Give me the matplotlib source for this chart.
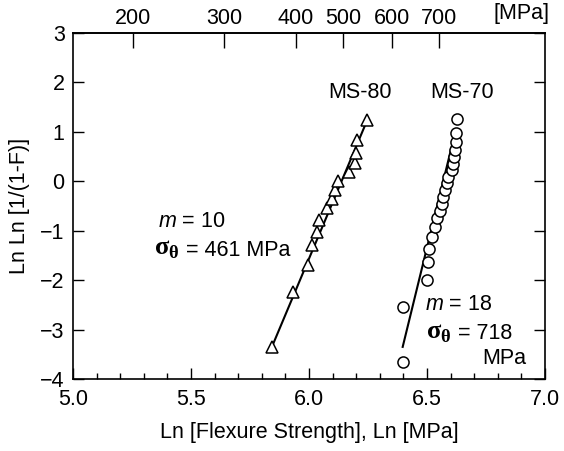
import numpy as np
import matplotlib
matplotlib.use('Agg')
import matplotlib.pyplot as plt
from matplotlib.ticker import MultipleLocator, NullLocator

plt.rcParams['font.family'] = ['Liberation Sans', 'DejaVu Sans']
plt.rcParams['mathtext.fontset'] = 'custom'
plt.rcParams['mathtext.rm'] = 'Liberation Sans'
plt.rcParams['mathtext.it'] = 'Liberation Sans:italic'
plt.rcParams['mathtext.bf'] = 'Liberation Serif:bold'

# MS-80 (triangles)
ms80_x = [5.842, 5.933, 5.994, 6.011, 6.033, 6.042, 6.075, 6.096, 6.110, 6.124,
          6.169, 6.195, 6.199, 6.202, 6.247]
ms80_y = [-3.36, -2.23, -1.69, -1.29, -1.02, -0.78, -0.55, -0.36, -0.18, 0.01,
          0.19, 0.38, 0.57, 0.84, 1.24]
ms80_fit_x = [5.842, 6.247]
ms80_fit_y = [-3.36, 1.24]

# MS-70 (circles)
ms70_x = [6.400, 6.400, 6.499, 6.506, 6.510, 6.520, 6.534, 6.541, 6.555, 6.562,
          6.569, 6.576, 6.583, 6.590, 6.605, 6.612, 6.614, 6.619, 6.623, 6.623, 6.628]
ms70_y = [-3.65, -2.54, -2.00, -1.63, -1.36, -1.12, -0.92, -0.75, -0.61, -0.45,
          -0.31, -0.18, -0.04, 0.09, 0.23, 0.36, 0.50, 0.63, 0.80, 0.97, 1.27]
ms70_fit_x = [6.397, 6.620]
ms70_fit_y = [-3.35, 1.00]

# top MPa scale, tick positions as drawn in the original (ln units)
mpa_labels = ['200', '300', '400', '500', '600', '700']
mpa_pos = [5.253, 5.641, 5.945, 6.145, 6.350, 6.552]

FS = 15.5

fig = plt.figure(figsize=(5.64, 4.51), dpi=100)
ax = fig.add_axes([0.1294, 0.1596, 0.8369, 0.7672])

ax.plot(ms80_fit_x, ms80_fit_y, 'k-', lw=1.5, zorder=2)
ax.plot(ms80_x, ms80_y, '^', ms=9, mfc='white', mec='black', mew=1.1, zorder=3)
ax.plot(ms70_fit_x, ms70_fit_y, 'k-', lw=1.5, zorder=2)
ax.plot(ms70_x, ms70_y, 'o', ms=8, mfc='white', mec='black', mew=1.1, zorder=3)

ax.set_xlim(5.0, 7.0)
ax.set_ylim(-4, 3)
ax.xaxis.set_minor_locator(MultipleLocator(0.1))
ax.set_xticks([5.0, 5.5, 6.0, 6.5, 7.0], ['5.0', '5.5', '6.0', '6.5', '7.0'])
ax.set_yticks(range(-4, 4), ['\u22124', '\u22123', '\u22122', '\u22121', '0', '1', '2', '3'])
ax.tick_params(axis='x', which='major', direction='in', length=8, width=1, labelsize=FS, top=False, pad=7)
ax.tick_params(axis='x', which='minor', direction='in', length=4, width=1, top=False)
ax.tick_params(axis='y', which='major', direction='in', length=8, width=1, labelsize=FS, right=True, pad=6)
for s in ax.spines.values():
    s.set_linewidth(1.2)

top = ax.secondary_xaxis('top')
top.set_xticks(mpa_pos, mpa_labels)
top.xaxis.set_minor_locator(NullLocator())
top.tick_params(direction='in', length=11, width=1, labelsize=FS, pad=3)
top.spines['top'].set_linewidth(1.2)

ax.text(0.95, 1.025, '[MPa]', transform=ax.transAxes, ha='center', va='bottom', fontsize=FS)

ax.set_xlabel('Ln [Flexure Strength], Ln [MPa]', fontsize=FS, labelpad=9)
ax.set_ylabel('Ln Ln [1/(1-F)]', fontsize=FS, labelpad=7)

ax.text(6.216, 1.79, 'MS-80', ha='center', va='center', fontsize=FS)
ax.text(6.648, 1.79, 'MS-70', ha='center', va='center', fontsize=FS)

ax.text(5.36, -0.82, r'$m$ = 10', ha='left', va='center', fontsize=FS)
s1 = ax.text(5.345, -1.37, r'$\mathbf{\sigma}_\mathbf{\theta}$', ha='left', va='center', fontsize=19)
ax.annotate(' = 461 MPa', xy=(1, 0.45), xycoords=s1, xytext=(0, 0), textcoords='offset points',
            ha='left', va='center', fontsize=FS)

ax.text(6.49, -2.50, r'$m$ = 18', ha='left', va='center', fontsize=FS)
s2 = ax.text(6.497, -3.06, r'$\mathbf{\sigma}_\mathbf{\theta}$', ha='left', va='center', fontsize=19)
ax.annotate(' = 718', xy=(1, 0.45), xycoords=s2, xytext=(0, 0), textcoords='offset points',
            ha='left', va='center', fontsize=FS)
ax.text(6.92, -3.58, 'MPa', ha='right', va='center', fontsize=FS)

fig.savefig('out.png', dpi=100)
